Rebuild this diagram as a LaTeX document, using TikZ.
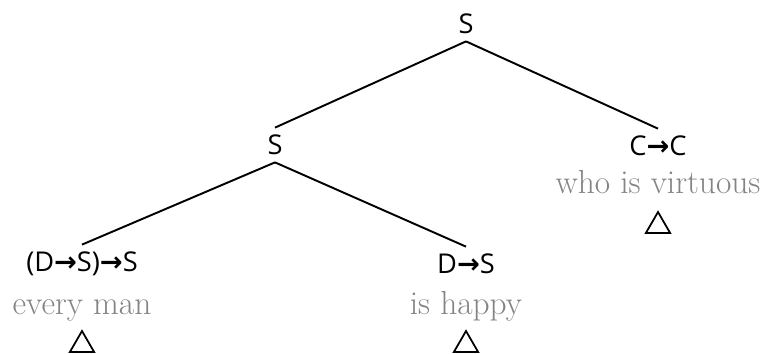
\documentclass[tikz,border=0pt]{standalone}
\usepackage{fontspec}
\usepackage{xcolor}
\usepackage{tikz}
\usetikzlibrary{shapes.geometric}
\newfontfamily\catfont{Open Sans}
\newfontfamily\arrowfont{DejaVu Sans}
\newcommand{\catarr}{{\arrowfont\bfseries →}}
\definecolor{wordGrey}{RGB}{132,132,132}

\begin{document}
\begin{tikzpicture}[x=0.02cm, y=-0.02cm,
		cat/.style={font=\catfont\fontsize{15.5}{18}\selectfont, inner sep=4pt},
		word/.style={font=\fontsize{19}{22}\selectfont, text=wordGrey, inner sep=0pt, anchor=base},
		roof/.style={regular polygon, regular polygon sides=3, draw, line width=1pt, minimum size=0.56cm, inner sep=0pt}]
		\useasboundingbox (0,0) rectangle (763,353);
		\node [cat] (root) at (466,24) {S};
		\node [cat] (s) at (275,145) {S};
		\node [cat] (rel) at (658,146) {C\catarr C};
		\node [word] (relw) at (658,193) {who is virtuous};
		\node [roof] (relt) at (658,226) {};
		\node [cat] (quant) at (82,264) {(D\catarr S)\catarr S};
		\node [word] (quantw) at (82,314) {every man};
		\node [roof] (quantt) at (82,345) {};
		\node [cat] (pred) at (466,264) {D\catarr S};
		\node [word] (predw) at (466,314) {is happy};
		\node [roof] (predt) at (466,345) {};
		\draw [line width=1.1pt] (root.south) -- (s.north);
		\draw [line width=1.1pt] (root.south) -- (rel.north);
		\draw [line width=1.1pt] (s.south) -- (quant.north);
		\draw [line width=1.1pt] (s.south) -- (pred.north);
	\end{tikzpicture}
\end{document}
